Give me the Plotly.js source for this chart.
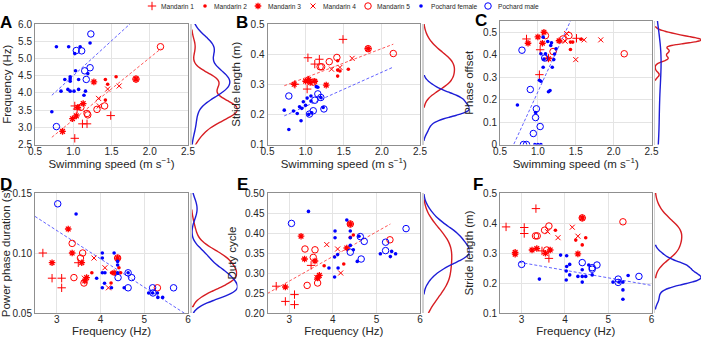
<!DOCTYPE html>
<html><head><meta charset="utf-8">
<script src="https://cdn.plot.ly/plotly-3.0.1.min.js"></script>
<style>html,body{margin:0;padding:0;background:#fff}#chart{width:706px;height:340px}</style>
</head><body><div id="chart"></div>
<script>
// ---------- group names ----------
const groupNames = ['Mandarin 1','Mandarin 2','Mandarin 3','Mandarin 4','Mandarin 5','Pochard female','Pochard male'];

// ---------- Panel A: swimming speed vs frequency ----------
const A_m1_x = [1.02, 1.05, 1.12, 1.18, 1.49, 1.02];
const A_m1_y = [3.62, 3.53, 3.10, 3.10, 3.34, 2.68];
const A_m2_x = [1.42, 1.56, 1.45, 1.42];
const A_m2_y = [4.39, 4.47, 4.25, 3.79];
const A_m3_x = [1.27, 1.13, 1.06, 1.04, 0.99, 0.86, 1.82];
const A_m3_y = [4.32, 3.69, 3.58, 3.33, 3.25, 2.88, 4.40];
const A_m4_x = [1.33, 1.45, 1.60, 1.34];
const A_m4_y = [3.84, 4.11, 4.20, 3.62];
const A_m5_x = [2.14, 1.82, 1.41, 1.31, 1.19, 1.18, 1.10];
const A_m5_y = [5.34, 4.40, 3.62, 3.52, 3.36, 3.40, 3.58];
const A_pf_x = [0.78, 0.94, 1.09, 1.22, 1.02, 1.03, 0.89, 0.96, 0.96, 0.96, 1.07, 1.19, 0.84, 0.93, 0.96, 1.01, 1.07, 1.16, 1.14, 0.72];
const A_pf_y = [5.34, 5.34, 5.34, 5.45, 5.14, 4.64, 4.39, 4.47, 4.41, 4.34, 4.39, 4.56, 4.05, 4.10, 4.05, 4.05, 4.10, 4.05, 3.93, 3.45];
const A_pm_x = [1.23, 1.04, 1.11, 1.15, 1.22, 1.17, 0.78];
const A_pm_y = [5.71, 5.23, 5.22, 4.64, 4.73, 4.39, 3.02];
const A_fitR_x = [0.72, 2.15], A_fitR_y = [2.71, 5.29];
const A_fitB_x = [0.72, 2.14], A_fitB_y = [3.93, 6.81];

// ---------- Panel B: swimming speed vs stride length ----------
const B_m1_x = [1.03, 1.12, 1.18, 1.49, 1.02, 0.86, 1.03];
const B_m1_y = [0.388, 0.367, 0.383, 0.449, 0.284, 0.300, 0.314];
const B_m2_x = [1.42, 1.42, 1.45, 1.56, 1.42];
const B_m2_y = [0.378, 0.347, 0.344, 0.350, 0.327];
const B_m3_x = [0.85, 1.00, 1.04, 1.06, 1.12, 1.27, 1.82];
const B_m3_y = [0.300, 0.310, 0.316, 0.306, 0.310, 0.297, 0.418];
const B_m4_x = [1.34, 1.45, 1.61];
const B_m4_y = [0.350, 0.356, 0.386];
const B_m5_x = [2.15, 1.82, 1.41, 1.31, 1.19, 1.21, 1.10];
const B_m5_y = [0.402, 0.418, 0.389, 0.375, 0.358, 0.358, 0.307];
const B_pf_x = [0.72, 0.84, 0.89, 0.78, 0.94, 0.92, 0.95, 0.97, 1.02, 1.07, 1.07, 1.14, 1.16, 1.20, 1.23, 1.04, 1.08, 1.00];
const B_pf_y = [0.214, 0.211, 0.203, 0.150, 0.179, 0.225, 0.220, 0.242, 0.254, 0.261, 0.244, 0.292, 0.290, 0.256, 0.223, 0.200, 0.205, 0.230];
const B_pm_x = [0.78, 1.16, 1.12, 1.20, 1.24, 1.10, 1.05];
const B_pm_y = [0.261, 0.268, 0.247, 0.256, 0.218, 0.212, 0.201];
const B_fitR_x = [0.72, 2.15], B_fitR_y = [0.295, 0.433];
const B_fitB_x = [0.72, 2.15], B_fitB_y = [0.195, 0.357];

// ---------- Panel C: swimming speed vs phase offset ----------
const C_m1_x = [0.85, 1.03, 1.02, 1.14, 1.51];
const C_m1_y = [0.470, 0.422, 0.311, 0.385, 0.473];
const C_m2_x = [1.43, 1.43, 1.46, 1.57];
const C_m2_y = [0.423, 0.456, 0.456, 0.469];
const C_m3_x = [0.87, 1.00, 1.06, 1.08, 1.14, 1.28];
const C_m3_y = [0.451, 0.479, 0.451, 0.500, 0.382, 0.462];
const C_m4_x = [1.38, 1.50, 1.61, 1.83, 1.36];
const C_m4_y = [0.494, 0.378, 0.466, 0.466, 0.460];
const C_m5_x = [2.14, 1.41, 1.10, 1.20, 1.33];
const C_m5_y = [0.404, 0.485, 0.485, 0.414, 0.470];
const C_pf_x = [0.73, 0.96, 1.00, 1.04, 0.97, 1.02, 1.04, 1.07, 1.19, 1.14, 1.16, 1.04, 1.10, 1.08, 1.13, 1.18, 1.17, 1.24, 1.22, 1.21, 1.07];
const C_pf_y = [0.176, 0, 0, 0, 0.142, 0.286, 0.282, 0.344, 0.344, 0.235, 0.240, 0.404, 0.404, 0.380, 0.459, 0.453, 0.441, 0.426, 0.403, 0.378, 0.478];
const C_pm_x = [0.79, 0.90, 0.98, 0.97, 1.03, 0.94, 0.81, 0.85, 1.09];
const C_pm_y = [0.420, 0.245, 0.159, 0.120, 0.080, 0.049, 0, 0, 0.385];
const C_fitB_x = [0.60, 1.50], C_fitB_y = [-0.059, 0.601];

// ---------- Panel D: frequency vs power phase duration ----------
const D_m1_x = [2.68, 2.89, 3.11, 3.11, 3.49];
const D_m1_y = [0.100, 0.079, 0.079, 0.071, 0.0919];
const D_m2_x = [3.80, 4.25, 4.42, 4.46, 4.24];
const D_m2_y = [0.0835, 0.0835, 0.0877, 0.0835, 0.075];
const D_m3_x = [3.26, 3.35, 2.89, 3.57, 3.68, 3.64, 4.31, 4.39];
const D_m3_y = [0.120, 0.100, 0.0919, 0.0919, 0.0795, 0.0767, 0.0835, 0.0958];
const D_m4_x = [3.85, 4.10, 4.18, 3.63];
const D_m4_y = [0.0958, 0.0877, 0.071, 0.079];
const D_m5_x = [3.35, 3.59, 3.54, 3.39, 3.62, 4.39, 5.30];
const D_m5_y = [0.108, 0.100, 0.0958, 0.0795, 0.075, 0.0958, 0.071];
const D_pf_x = [3.44, 4.04, 4.31, 4.04, 4.39, 4.39, 3.91, 4.04, 4.10, 4.39, 4.04, 4.09, 4.25, 4.54, 5.10, 5.19, 5.30, 5.31, 5.42, 4.63];
const D_pf_y = [0.1325, 0.100, 0.100, 0.0958, 0.093, 0.090, 0.079, 0.0835, 0.0835, 0.0835, 0.071, 0.0748, 0.071, 0.071, 0.0667, 0.0667, 0.0667, 0.063, 0.063, 0.0835];
const D_pm_x = [3.02, 4.63, 4.71, 4.40, 4.63, 5.19, 5.20, 5.67];
const D_pm_y = [0.141, 0.0835, 0.0795, 0.0795, 0.071, 0.071, 0.0667, 0.071];
const D_fitB_x = [2.5, 6.0], D_fitB_y = [0.1305, 0.0479];

// ---------- Panel E: frequency vs duty cycle ----------
const E_m1_x = [2.70, 2.91, 3.12, 3.12, 3.50];
const E_m1_y = [0.267, 0.229, 0.246, 0.221, 0.319];
const E_m2_x = [3.80, 4.25, 4.40, 4.47];
const E_m2_y = [0.318, 0.3225, 0.389, 0.395];
const E_m3_x = [3.27, 2.91, 3.35, 3.59, 3.69, 3.65, 4.32, 4.40];
const E_m3_y = [0.392, 0.265, 0.335, 0.330, 0.294, 0.2875, 0.3625, 0.4225];
const E_m4_x = [3.86, 4.11, 4.18, 3.63];
const E_m4_y = [0.371, 0.360, 0.300, 0.289];
const E_m5_x = [4.40, 3.36, 3.59, 3.55, 3.41, 3.65, 5.31];
const E_m5_y = [0.4225, 0.360, 0.358, 0.339, 0.269, 0.275, 0.383];
const E_pf_x = [3.44, 4.32, 4.05, 4.05, 4.40, 4.40, 4.40, 4.47, 4.04, 4.11, 3.91, 4.12, 4.04, 4.56, 4.60, 5.09, 5.35, 5.44, 5.32];
const E_pf_y = [0.454, 0.4325, 0.405, 0.388, 0.405, 0.388, 0.369, 0.358, 0.340, 0.346, 0.3125, 0.3125, 0.290, 0.329, 0.392, 0.348, 0.354, 0.348, 0.341];
const E_pm_x = [3.05, 4.63, 4.72, 4.40, 4.65, 5.21, 5.21, 5.68];
const E_pm_y = [0.424, 0.391, 0.379, 0.352, 0.335, 0.377, 0.356, 0.411];
const E_fitR_x = [2.5, 5.32], E_fitR_y = [0.249, 0.4225];

// ---------- Panel F: frequency vs stride length ----------
const F_m1_x = [2.64, 3.06, 3.06, 3.33, 3.47, 3.63];
const F_m1_y = [0.387, 0.385, 0.365, 0.448, 0.307, 0.282];
const F_m2_x = [3.78, 4.25, 4.48, 4.40];
const F_m2_y = [0.376, 0.343, 0.351, 0.327];
const F_m3_x = [2.85, 2.85, 3.24, 3.35, 3.55, 3.66, 4.30, 4.40];
const F_m3_y = [0.302, 0.296, 0.310, 0.315, 0.299, 0.310, 0.297, 0.417];
const F_m4_x = [3.84, 4.30, 4.17, 3.60];
const F_m4_y = [0.351, 0.356, 0.386, 0.371];
const F_m5_x = [4.40, 3.32, 3.36, 3.53, 3.63, 3.58, 5.34];
const F_m5_y = [0.417, 0.357, 0.357, 0.376, 0.390, 0.310, 0.404];
const F_pf_x = [3.41, 3.90, 4.04, 4.11, 4.04, 4.03, 4.11, 4.03, 4.30, 4.40, 4.40, 4.40, 4.48, 4.63, 4.55, 5.11, 5.25, 5.34, 5.46, 5.34, 5.34];
const F_pf_y = [0.213, 0.293, 0.291, 0.262, 0.255, 0.240, 0.227, 0.210, 0.222, 0.222, 0.244, 0.203, 0.222, 0.227, 0.260, 0.203, 0.203, 0.203, 0.225, 0.177, 0.146];
const F_pm_x = [3.00, 4.40, 4.63, 4.63, 4.74, 5.23, 5.23, 5.71];
const F_pm_y = [0.262, 0.268, 0.251, 0.246, 0.260, 0.213, 0.202, 0.222];
const F_fitB_x = [2.95, 6.0], F_fitB_y = [0.269, 0.192];

// ---------- tick labels ----------
const speedTicks = [0.5, 1.0, 1.5, 2.0, 2.5], speedText = ['0.5','1.0','1.5','2.0','2.5'];
const freqTicks = [3, 4, 5, 6], freqText = ['3','4','5','6'];
const freqYTicks = [2.5, 3.0, 3.5, 4.0, 4.5, 5.0, 5.5, 6.0], freqYText = ['2.5','3.0','3.5','4.0','4.5','5.0','5.5','6.0'];
const strideTicks = [0.1, 0.2, 0.3, 0.4, 0.5], strideText = ['0.1','0.2','0.3','0.4','0.5'];
const phaseTicks = [0, 0.1, 0.2, 0.3, 0.4, 0.5], phaseText = ['0','0.1','0.2','0.3','0.4','0.5'];
const ppdTicks = [0.05, 0.10, 0.15], ppdText = ['0.05','0.10','0.15'];
const dutyTicks = [0.20, 0.25, 0.30, 0.35, 0.40, 0.45, 0.50], dutyText = ['0.20','0.25','0.30','0.35','0.40','0.45','0.50'];

// ---------- kernel bandwidths of the marginal densities (style, per panel A..F) ----------
const bwRed  = [0.24, 0.030, 0.012, 0.0078, 0.030, 0.032];
const bwBlue = [0.30, 0.018, 0.110, 0.0068, 0.021, 0.016];

// ---------- styles / layout positions (pixels) ----------
const RED = '#ff0000', BLUE = '#0000ff';
const DRED = 'rgb(215,30,35)', DBLUE = 'rgb(30,30,215)';
const groupStyle = [
  {color: RED, symbol: 'cross-thin-open', size: 6, lw: 1},
  {color: RED, symbol: 'circle', size: 3.6, lw: 0},
  {color: RED, symbol: 'asterisk-open', size: 5.5, lw: 1.3},
  {color: RED, symbol: 'x-thin-open', size: 5, lw: 1},
  {color: RED, symbol: 'circle-open', size: 6.5, lw: 1},
  {color: BLUE, symbol: 'circle', size: 3.6, lw: 0},
  {color: BLUE, symbol: 'circle-open', size: 6.5, lw: 1}
];
const legendMarkX = [152, 205, 258, 313, 368, 421, 488];
const legendTextX = [159, 212, 266, 321, 375, 429, 496];
const legendCY = 6;

const W = 706, H = 340;
const fx = v => v / W, fy = v => 1 - v / H;
const colX = [[35, 188], [267.5, 420], [500, 651.5]];
const densX = [[191.5, 237.5], [423.5, 469.5], [655, 701]];

const panels = [
  {L:'A', col:0, row:0, xs:[A_m1_x,A_m2_x,A_m3_x,A_m4_x,A_m5_x,A_pf_x,A_pm_x], ys:[A_m1_y,A_m2_y,A_m3_y,A_m4_y,A_m5_y,A_pf_y,A_pm_y],
   fits:[[A_fitB_x,A_fitB_y,'b'],[A_fitR_x,A_fitR_y,'r']], xr:[0.5,2.5], yr:[2.5,6.0], xt:[speedTicks,speedText], yt:[freqYTicks,freqYText],
   xtitle:'Swimming speed (m s<sup>−1</sup>)', ytitle:'Frequency (Hz)', top:24, so:4},
  {L:'B', col:1, row:0, xs:[B_m1_x,B_m2_x,B_m3_x,B_m4_x,B_m5_x,B_pf_x,B_pm_x], ys:[B_m1_y,B_m2_y,B_m3_y,B_m4_y,B_m5_y,B_pf_y,B_pm_y],
   fits:[[B_fitB_x,B_fitB_y,'b'],[B_fitR_x,B_fitR_y,'r']], xr:[0.5,2.5], yr:[0.1,0.5], xt:[speedTicks,speedText], yt:[strideTicks,strideText],
   xtitle:'Swimming speed (m s<sup>−1</sup>)', ytitle:'Stride length (m)', top:24, so:7},
  {L:'C', col:2, row:0, xs:[C_m1_x,C_m2_x,C_m3_x,C_m4_x,C_m5_x,C_pf_x,C_pm_x], ys:[C_m1_y,C_m2_y,C_m3_y,C_m4_y,C_m5_y,C_pf_y,C_pm_y],
   fits:[[C_fitB_x,C_fitB_y,'b']], xr:[0.5,2.5], yr:[0,0.55], xt:[speedTicks,speedText], yt:[phaseTicks,phaseText],
   xtitle:'Swimming speed (m s<sup>−1</sup>)', ytitle:'Phase offset', top:21, so:7},
  {L:'D', col:0, row:1, xs:[D_m1_x,D_m2_x,D_m3_x,D_m4_x,D_m5_x,D_pf_x,D_pm_x], ys:[D_m1_y,D_m2_y,D_m3_y,D_m4_y,D_m5_y,D_pf_y,D_pm_y],
   fits:[[D_fitB_x,D_fitB_y,'b']], xr:[2.5,6], yr:[0.05,0.15], xt:[freqTicks,freqText], yt:[ppdTicks,ppdText],
   xtitle:'Frequency (Hz)', ytitle:'Power phase duration (s)', top:193, so:4},
  {L:'E', col:1, row:1, xs:[E_m1_x,E_m2_x,E_m3_x,E_m4_x,E_m5_x,E_pf_x,E_pm_x], ys:[E_m1_y,E_m2_y,E_m3_y,E_m4_y,E_m5_y,E_pf_y,E_pm_y],
   fits:[[E_fitR_x,E_fitR_y,'r']], xr:[2.5,6], yr:[0.2,0.5], xt:[freqTicks,freqText], yt:[dutyTicks,dutyText],
   xtitle:'Frequency (Hz)', ytitle:'Duty cycle', top:193, so:6},
  {L:'F', col:2, row:1, xs:[F_m1_x,F_m2_x,F_m3_x,F_m4_x,F_m5_x,F_pf_x,F_pm_x], ys:[F_m1_y,F_m2_y,F_m3_y,F_m4_y,F_m5_y,F_pf_y,F_pm_y],
   fits:[[F_fitB_x,F_fitB_y,'b']], xr:[2.5,6], yr:[0.1,0.5], xt:[freqTicks,freqText], yt:[strideTicks,strideText],
   xtitle:'Frequency (Hz)', ytitle:'Stride length (m)', top:193, so:7}
];
const letterPos = {A:[6,22.5], B:[242,23], C:[481,20.5], D:[6,185], E:[242,185], F:[478,185]};

const traces = [];
const layout = {
  width: W, height: H, margin: {l:0, r:0, t:0, b:0}, paper_bgcolor:'#fff', plot_bgcolor:'#fff',
  font: {family: 'Liberation Sans, Arial, sans-serif', color: '#262626'},
  violinmode: 'overlay', violingap: 0, violingroupgap: 0, showlegend: false,
  annotations: []
};
const axFont = {size: 10, color: '#262626'};
const titleFont = {size: 11.5, color: '#262626'};
const axName = k => (k === 1 ? '' : String(k));

panels.forEach((p, i) => {
  const n = axName(i + 1), dn = axName(i + 7);
  const xa = 'x' + n, ya = 'y' + n, dxa = 'x' + dn, dya = 'y' + dn;
  const yDom = [fy(p.row === 0 ? 144.5 : 313), fy(p.top)];
  layout['xaxis' + n] = {domain: [fx(colX[p.col][0]), fx(colX[p.col][1])], anchor: ya, range: p.xr,
    tickvals: p.xt[0], ticktext: p.xt[1], showgrid: true, gridcolor: '#e4e4e4', zeroline: false,
    showline: true, mirror: true, linecolor: '#8f8f8f', linewidth: 1, ticks: '', tickfont: axFont, ticklabelstandoff: -3,
    title: {text: p.xtitle, font: titleFont, standoff: 0}, fixedrange: true};
  layout['yaxis' + n] = {domain: yDom, anchor: xa, range: p.yr,
    tickvals: p.yt[0], ticktext: p.yt[1], showgrid: true, gridcolor: '#e4e4e4', zeroline: false,
    showline: true, mirror: true, linecolor: '#8f8f8f', linewidth: 1, ticks: '', tickfont: axFont,
    title: {text: p.ytitle, font: titleFont, standoff: p.so}, fixedrange: true};
  layout['xaxis' + dn] = {domain: [fx(densX[p.col][0]), fx(densX[p.col][1])], anchor: dya, range: [0, 0.5],
    visible: false, fixedrange: true};
  layout['yaxis' + dn] = {domain: yDom, anchor: dxa, matches: ya, showgrid: false, zeroline: false,
    showticklabels: false, ticks: '', showline: true, linecolor: '#d2d2d2', linewidth: 1.5, fixedrange: true};

  // fit lines
  p.fits.forEach(f => {
    traces.push({type:'scatter', mode:'lines', x: f[0], y: f[1], xaxis: xa, yaxis: ya, showlegend: false, hoverinfo:'skip',
      line: {color: f[2] === 'r' ? 'rgba(255,60,60,0.85)' : 'rgba(70,70,255,0.85)', width: 1, dash: '3px,2px'}});
  });
  // scatter groups
  p.xs.forEach((xv, g) => {
    const s = groupStyle[g];
    traces.push({type:'scatter', mode:'markers', x: xv, y: p.ys[g], xaxis: xa, yaxis: ya, name: groupNames[g],
      showlegend: false, cliponaxis: true,
      marker: {symbol: s.symbol, size: s.size, color: s.color, line: {color: s.color, width: s.lw}}});
  });
  // marginal densities (all Mandarin vs all Pochard), scaled together within a panel
  const redY = [].concat(p.ys[0], p.ys[1], p.ys[2], p.ys[3], p.ys[4]);
  const blueY = [].concat(p.ys[5], p.ys[6]);
  [[redY, DRED, 'red', bwRed[i]], [blueY, DBLUE, 'blue', bwBlue[i]]].forEach(d => {
    traces.push({type:'violin', y: d[0], x0: 0, name: 'dens' + p.L, xaxis: dxa, yaxis: dya, side: 'positive', orientation: 'v',
      points: false, box: {visible: false}, meanline: {visible: false}, fillcolor: 'rgba(0,0,0,0)',
      bandwidth: d[3], line: {color: d[1], width: 1.4}, scalegroup: 'sg' + p.L, scalemode: 'width', spanmode: 'soft',
      showlegend: false, hoverinfo: 'skip'});
  });
  layout.annotations.push({text: '<b>' + p.L + '</b>', xref: 'paper', yref: 'paper', x: fx(letterPos[p.L][0]), y: fy(letterPos[p.L][1]),
    xanchor: 'center', yanchor: 'middle', showarrow: false, font: {size: 17, color: '#000'}});
});

// ---------- legend row (keys drawn on their own hidden axis, labels as text) ----------
layout.xaxis13 = {domain: [0, 1], range: [0, W], visible: false, fixedrange: true, anchor: 'y13'};
layout.yaxis13 = {domain: [fy(legendCY + 6), fy(legendCY - 6)], range: [-1, 1], visible: false, fixedrange: true, anchor: 'x13'};
groupNames.forEach((name, g) => {
  const s = groupStyle[g];
  traces.push({type:'scatter', mode:'markers', x: [legendMarkX[g]], y: [0], xaxis: 'x13', yaxis: 'y13', name: name,
    showlegend: false, hoverinfo: 'skip',
    marker: {symbol: s.symbol, size: s.size, color: s.color, line: {color: s.color, width: s.lw}}});
  layout.annotations.push({text: name, xref: 'paper', yref: 'paper', x: fx(legendTextX[g]), y: fy(legendCY),
    xanchor: 'left', yanchor: 'middle', showarrow: false, font: {size: 6.6, color: '#262626'}});
});

Plotly.newPlot('chart', traces, layout, {staticPlot: true});
</script></body></html>
